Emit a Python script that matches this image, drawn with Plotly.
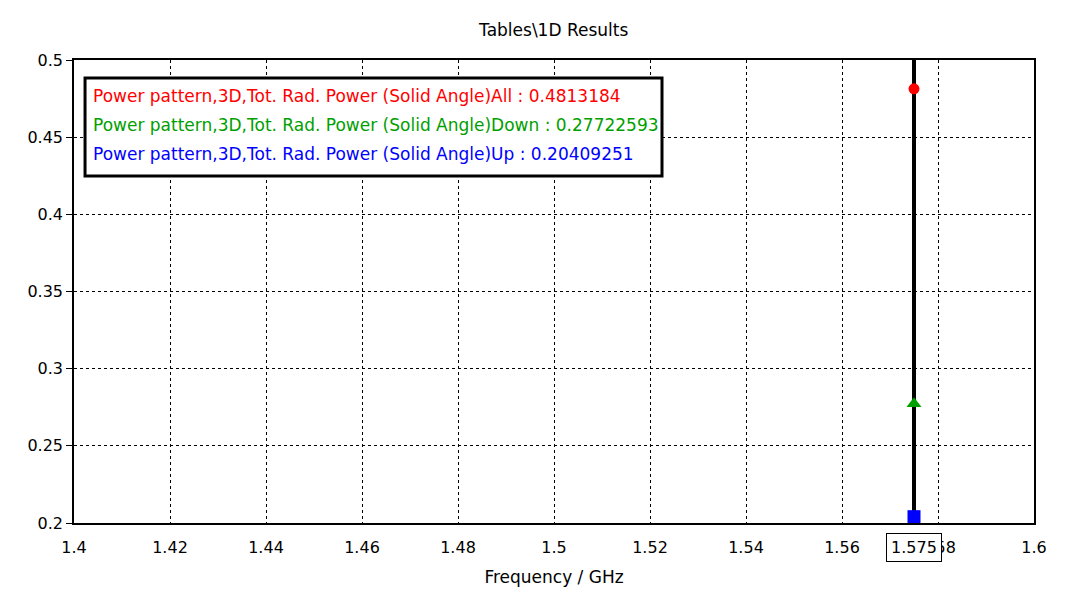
import plotly.graph_objects as go

freq = [1.575]
names = ["Power pattern,3D,Tot. Rad. Power (Solid Angle)All",
         "Power pattern,3D,Tot. Rad. Power (Solid Angle)Down",
         "Power pattern,3D,Tot. Rad. Power (Solid Angle)Up"]
values = [0.4813184, 0.27722593, 0.20409251]
value_text = ["0.4813184", "0.27722593", "0.20409251"]
colors = ["#ff0000", "#00a000", "#0000ff"]
symbols = ["circle", "triangle-up", "square"]
sizes = [11, 13, 13]
x_ticks = [1.4, 1.42, 1.44, 1.46, 1.48, 1.5, 1.52, 1.54, 1.56, 1.58, 1.6]
y_ticks = [0.2, 0.25, 0.3, 0.35, 0.4, 0.45, 0.5]
marker_x = 1.575

FONT = "DejaVu Sans"

fig = go.Figure()
for n, v, c, s, sz in zip(names, values, colors, symbols, sizes):
    fig.add_trace(go.Scatter(x=freq, y=[v], mode="markers", name=n,
                             marker=dict(color=c, symbol=s, size=sz, line=dict(width=0)),
                             showlegend=False, cliponaxis=False))

fig.add_shape(type="line", xref="x", yref="paper", x0=marker_x, x1=marker_x, y0=0, y1=1,
              line=dict(color="black", width=4), layer="below")

# legend box
fig.add_shape(type="rect", xref="paper", yref="paper", x0=0.0115, x1=0.6125, y0=0.7495, y1=0.961,
              line=dict(color="black", width=3), fillcolor="white", layer="above")
line_y = [0.9222, 0.8596, 0.797]
for n, t, c, ly in zip(names, value_text, colors, line_y):
    fig.add_annotation(xref="paper", yref="paper", x=0.0177, y=ly, xanchor="left", yanchor="middle",
                       text=f"{n} : {t}", showarrow=False,
                       font=dict(family=FONT, size=17, color=c))

fig.add_annotation(xref="x", yref="paper", x=marker_x, y=0, yshift=-10, yanchor="top",
                   text=f"{marker_x}", showarrow=False, font=dict(family=FONT, size=16, color="black"),
                   bgcolor="white", bordercolor="black", borderwidth=1, borderpad=4)

axis_common = dict(showline=True, linecolor="black", linewidth=1.5, mirror=True,
                   showgrid=True, gridcolor="black", gridwidth=1, griddash="3px,3px",
                   zeroline=False, automargin=False,
                   tickfont=dict(family=FONT, size=16, color="black"))

fig.update_xaxes(range=[1.4, 1.6], tickvals=x_ticks, ticktext=[f"{t:g}" for t in x_ticks],
                 ticks="", ticklabelstandoff=9,
                 title=dict(text="Frequency / GHz", font=dict(family=FONT, size=17, color="black"),
                            standoff=15), **axis_common)
fig.update_yaxes(range=[0.2, 0.5], tickvals=y_ticks, ticktext=[f"{t:g}" for t in y_ticks],
                 ticks="outside", ticklen=6, tickcolor="black", **axis_common)

fig.update_layout(width=1070, height=585, plot_bgcolor="white", paper_bgcolor="white",
                  margin=dict(l=66, r=44, t=52, b=70),
                  title=dict(text="Tables\\1D Results", x=0.510, xanchor="center", y=0.962,
                             yanchor="middle", font=dict(family=FONT, size=17, color="black")),
                  showlegend=False)

fig.write_html("out.html")
